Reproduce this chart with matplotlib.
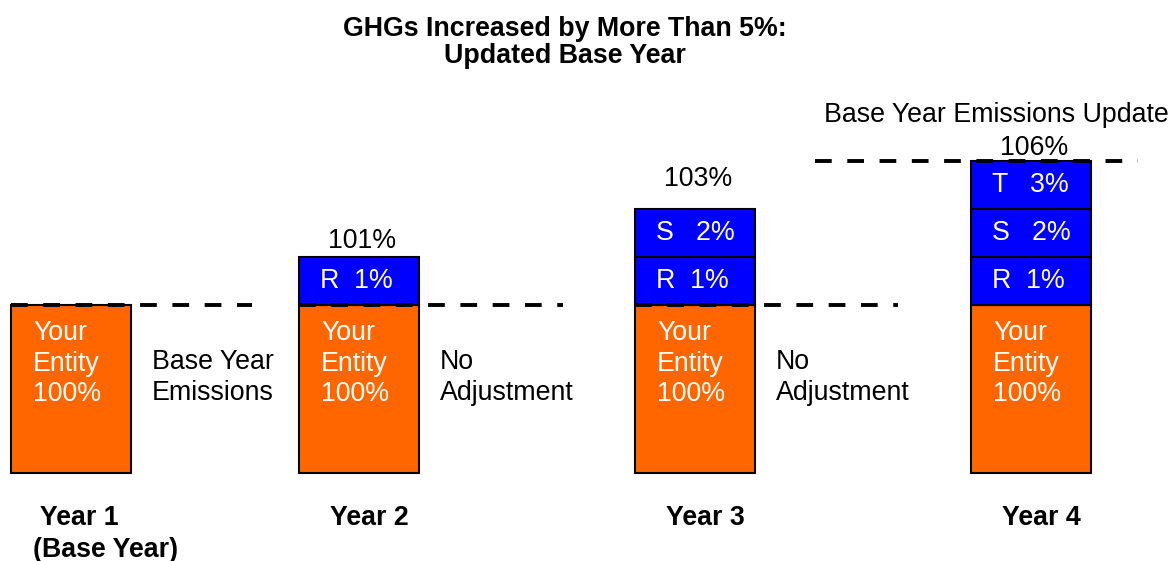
import matplotlib.pyplot as plt

plt.rcParams['font.family'] = ['Liberation Sans', 'DejaVu Sans']

# data
years = [' Year 1\n(Base Year)', 'Year 2', 'Year 3', 'Year 4']
entity_pct = [100, 100, 100, 100]
seg_labels = [[], ['R'], ['R', 'S'], ['R', 'S', 'T']]
seg_pct = [[], [1], [1, 2], [1, 2, 3]]
totals = [None, 101, 103, 106]
notes = ['Base Year\nEmissions', 'No\nAdjustment', 'No\nAdjustment', None]
update_note = 'Base Year Emissions Update'

# layout (figure works in pixel units, y measured from bottom)
W, H = 1175, 561
bar_x = [71, 359, 695, 1031]
bar_w = 120
base = 88
entity_h = 168
seg_h = 48
dash_from = [11, 299, 635, 815]
dash_to = [252, 563, 898, 1138]
total_gap = [0, 3, 17, 0]

orange = '#FF6600'
blue = '#0000FF'
fs = 19.3

fig = plt.figure(figsize=(W / 100, H / 100), dpi=100)
ax = fig.add_axes([0, 0, 1, 1])
ax.set_xlim(0, W)
ax.set_ylim(0, H)
ax.axis('off')

for i, x in enumerate(bar_x):
    left = x - bar_w / 2
    ax.bar(x, entity_h, width=bar_w, bottom=base, color=orange,
           edgecolor='black', linewidth=1.5, zorder=2)
    ax.text(left + 22, base + entity_h - 15,
            'Your\nEntity\n%d%%' % entity_pct[i], color='white',
            fontsize=fs, ha='left', va='top', linespacing=1.23, zorder=4)
    top = base + entity_h
    for lab, p in zip(seg_labels[i], seg_pct[i]):
        ax.bar(x, seg_h, width=bar_w, bottom=top, color=blue,
               edgecolor='black', linewidth=1.5, zorder=2)
        sep = '  ' if lab == 'R' else '   '
        ax.text(left + 21, top + seg_h / 2, lab + sep + '%d%%' % p,
                color='white', fontsize=fs, ha='left', va='center', zorder=4)
        top += seg_h

    # dashed reference line
    level = base + entity_h if i < 3 else top
    ax.plot([dash_from[i], dash_to[i]], [level, level], color='black',
            linewidth=2.8, dashes=(4.3, 4.0), zorder=3)

    if totals[i] is not None:
        ax.text(x + 3, top + total_gap[i], '%d%%' % totals[i], fontsize=fs,
                ha='center', va='bottom')

    if notes[i] is not None:
        ax.text(left + bar_w + 21, base + entity_h - 44, notes[i],
                fontsize=fs, ha='left', va='top', linespacing=1.23)

    # year label
    if i == 0:
        ax.text(left + 22, H - 505, years[i], fontsize=fs,
                fontweight='bold', ha='left', va='top', linespacing=1.3)
    else:
        ax.text(x + 10, H - 505, years[i], fontsize=fs,
                fontweight='bold', ha='center', va='top')

ax.text(996, H - 115, update_note, fontsize=fs, ha='center', va='center')

fig.text(565 / W, 1 - 16 / H, 'GHGs Increased by More Than 5%:\nUpdated Base Year',
         fontsize=fs, fontweight='bold', ha='center', va='top',
         linespacing=1.03)

fig.savefig('out.png', dpi=100)
